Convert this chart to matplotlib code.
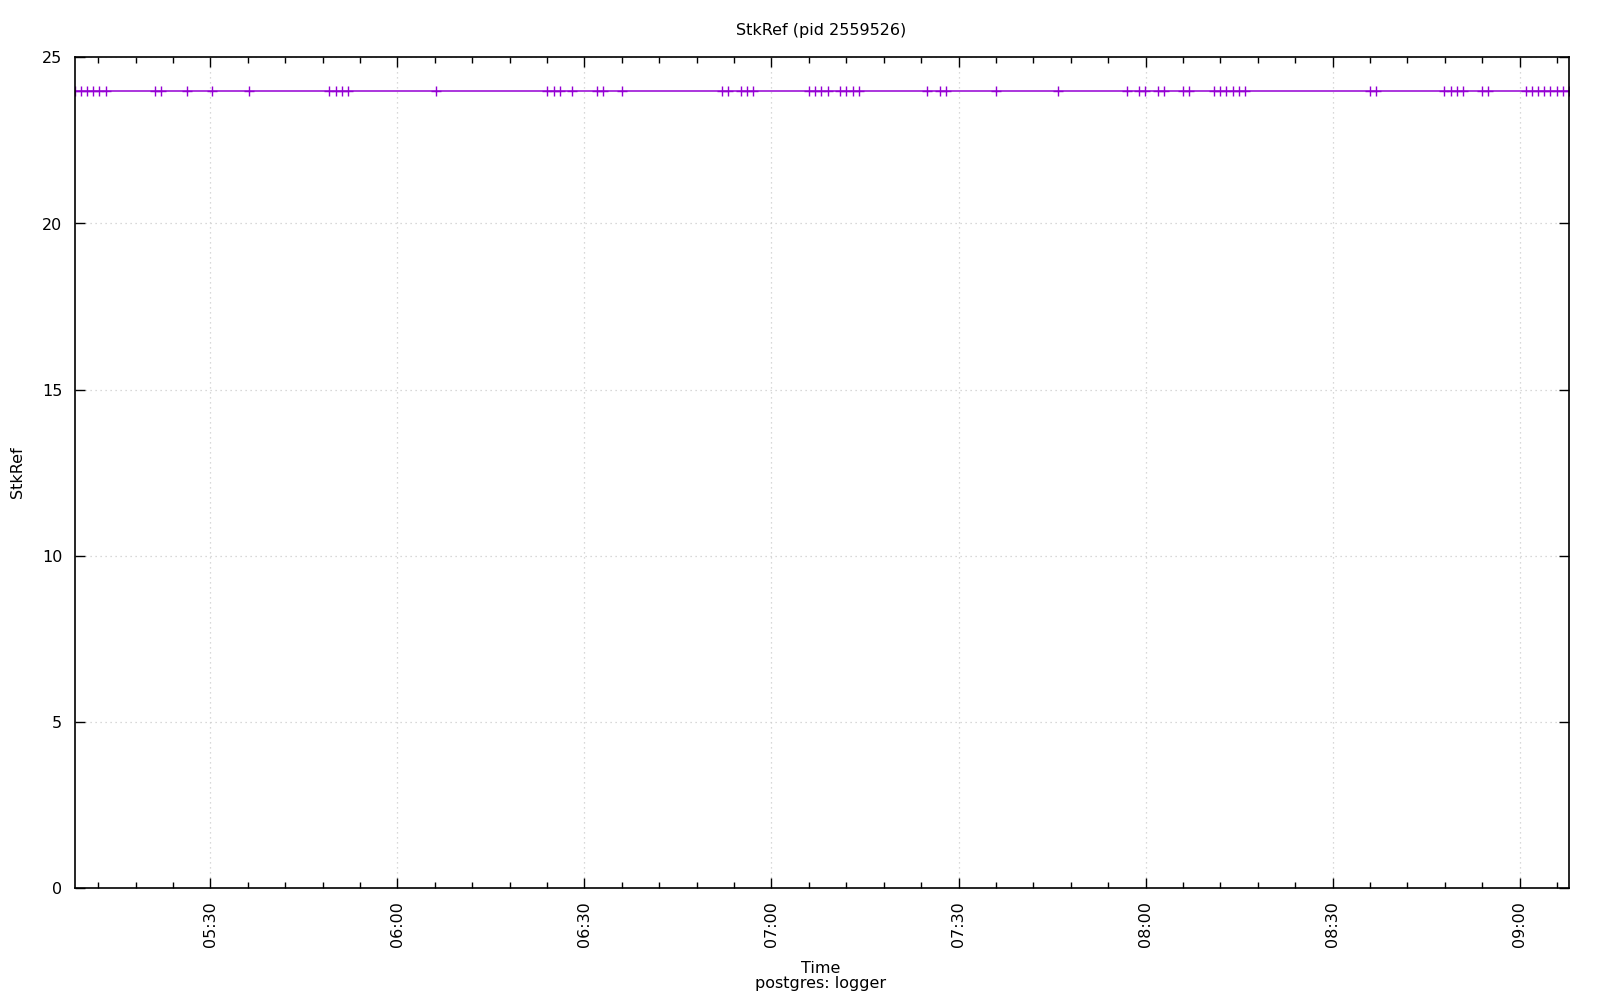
import pandas as pd
import matplotlib
matplotlib.use("Agg")
import matplotlib.pyplot as plt
import matplotlib.dates as mdates

# sample times (HH:MM:SS) and StkRef values for pid 2559526
times = [
    "05:08:15", "05:09:12", "05:10:12", "05:11:12", "05:12:12", "05:13:12",
    "05:21:12", "05:22:08", "05:26:12", "05:30:12", "05:36:10",
    "05:49:06", "05:50:12", "05:51:10", "05:52:08", "06:06:08",
    "06:24:02", "06:25:10", "06:26:08", "06:28:02", "06:32:05", "06:33:02",
    "06:36:04", "06:52:06", "06:53:04", "06:55:08", "06:56:06", "06:57:04",
    "07:06:04", "07:07:02", "07:08:00", "07:09:06", "07:11:02", "07:12:00",
    "07:13:06", "07:14:04", "07:25:00", "07:27:04", "07:28:00", "07:36:02",
    "07:46:00", "07:57:02", "07:59:00", "07:59:58", "08:02:02", "08:03:00",
    "08:06:02", "08:07:00", "08:11:00", "08:11:58", "08:12:56", "08:14:02",
    "08:15:00", "08:15:58", "08:36:00", "08:37:00", "08:47:56", "08:49:00",
    "08:49:58", "08:50:56", "08:53:58", "08:54:56", "09:00:56", "09:02:00",
    "09:02:58", "09:03:56", "09:04:56", "09:06:00", "09:06:58", "09:07:54",
]
stkref = [24] * len(times)

title = "StkRef (pid 2559526)"
ylabel = "StkRef"

t = pd.to_datetime(["2024-01-01 " + s for s in times])
df = pd.DataFrame({"time": t, "stkref": stkref})

plt.rcParams["font.family"] = ["DejaVu Sans"]
plt.rcParams["font.size"] = 11.5

fig = plt.figure(figsize=(16, 10), dpi=100)
ax = fig.add_axes([0.0467, 0.1117, 0.9339, 0.831])

ax.plot(df["time"], df["stkref"], color="#9400D3", linewidth=1.1,
        marker="+", markersize=6.5, markeredgewidth=1.0)

ax.set_xlim(df["time"].min(), df["time"].max())
ax.set_ylim(0, 25)
ax.set_yticks(range(0, 26, 5))

ax.xaxis.set_major_locator(mdates.MinuteLocator(byminute=[0, 30]))
ax.xaxis.set_minor_locator(mdates.MinuteLocator(byminute=range(0, 60, 6)))
ax.xaxis.set_major_formatter(mdates.DateFormatter("%H:%M"))
plt.setp(ax.get_xticklabels(), rotation=90, va="top", ha="center")

ax.tick_params(which="both", direction="in", top=True, right=True, width=1.0)
ax.tick_params(which="major", length=7.5, pad=9)
ax.tick_params(which="minor", length=4)
ax.tick_params(axis="y", pad=9)
for sp in ax.spines.values():
    sp.set_linewidth(1.2)

ax.grid(True, which="major", color="#cccccc", linestyle=(0, (1, 3)), linewidth=0.9)

fig.text(0.513, 0.969, title, ha="center", va="center")
fig.text(0.011, 0.528, ylabel, ha="center", va="center", rotation=90)
fig.text(0.513, 0.0318, "Time", ha="center", va="center")
fig.text(0.513, 0.0165, "postgres: logger", ha="center", va="center")

fig.savefig("out.png", dpi=100)
